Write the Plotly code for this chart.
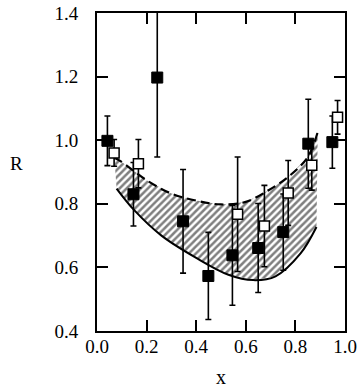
import plotly.graph_objects as go

# Filled squares
fx = [0.042, 0.147, 0.243, 0.347, 0.449, 0.546, 0.650, 0.751, 0.852, 0.949]
fy = [0.998, 0.830, 1.197, 0.745, 0.573, 0.638, 0.661, 0.711, 0.989, 0.994]
fe = [0.078, 0.100, 0.250, 0.163, 0.137, 0.157, 0.140, 0.120, 0.140, 0.082]

# Open squares
ox = [0.069, 0.167, 0.567, 0.675, 0.771, 0.866, 0.970]
oy = [0.960, 0.926, 0.767, 0.730, 0.834, 0.921, 1.072]
oe = [0.042, 0.076, 0.180, 0.128, 0.102, 0.078, 0.053]

# Band curves
lo_x = [0.079, 0.150, 0.260, 0.400, 0.530, 0.630, 0.720, 0.820, 0.885]
lo_y = [0.848, 0.780, 0.700, 0.630, 0.577, 0.560, 0.572, 0.643, 0.727]
up_x = [0.070, 0.093, 0.200, 0.300, 0.400, 0.500, 0.600, 0.690, 0.770, 0.850, 0.890]
up_y = [0.945, 0.935, 0.874, 0.832, 0.810, 0.798, 0.806, 0.842, 0.884, 0.947, 1.026]

xticks = [0.0, 0.2, 0.4, 0.6, 0.8, 1.0]
yticks = [0.4, 0.6, 0.8, 1.0, 1.2, 1.4]

FONT = "Liberation Serif"

fig = go.Figure()

# hatched band
fig.add_trace(go.Scatter(
    x=lo_x + up_x[::-1], y=lo_y + up_y[::-1],
    mode="lines", fill="toself", line=dict(width=0, color="rgba(0,0,0,0)"),
    fillcolor="white",
    fillpattern=dict(shape="/", size=5, solidity=0.5, fgcolor="black", bgcolor="white"),
    hoverinfo="skip", showlegend=False))
fig.add_trace(go.Scatter(x=lo_x, y=lo_y, mode="lines", line=dict(color="black", width=2, shape="spline"),
                         showlegend=False))
fig.add_trace(go.Scatter(x=up_x, y=up_y, mode="lines",
                         line=dict(color="black", width=2.2, dash="9px,5px", shape="spline"),
                         showlegend=False))

fig.add_trace(go.Scatter(
    x=fx, y=fy, mode="markers",
    marker=dict(symbol="square", size=11, color="black", line=dict(color="black", width=1)),
    error_y=dict(type="data", array=fe, color="black", thickness=1.6, width=3),
    showlegend=False))
fig.add_trace(go.Scatter(
    x=ox, y=oy, mode="markers",
    marker=dict(symbol="square", size=10, color="white", line=dict(color="black", width=1.5)),
    error_y=dict(type="data", array=oe, color="black", thickness=1.6, width=3),
    showlegend=False))

axis_common = dict(showline=True, linecolor="black", linewidth=2, mirror="ticks",
                   ticks="inside", ticklen=11, tickwidth=2, tickcolor="black",
                   showgrid=False, zeroline=False, automargin=False,
                   tickfont=dict(family=FONT, size=19, color="black"))

fig.update_xaxes(range=[0, 1], tickvals=xticks, ticktext=[f"{v:.1f}" for v in xticks],
                 ticklabelstandoff=-3, **axis_common)
fig.update_yaxes(range=[0.4, 1.4], tickvals=yticks, ticktext=[f"{v:.1f}" for v in yticks],
                 ticklabelstandoff=13, **axis_common)

fig.add_annotation(text="R", xref="paper", yref="paper", x=-0.323, y=0.527,
                   xanchor="center", yanchor="middle", showarrow=False,
                   font=dict(family=FONT, size=19, color="black"))
fig.add_annotation(text="x", xref="paper", yref="paper", x=0.5, y=-0.145,
                   xanchor="center", yanchor="middle", showarrow=False,
                   font=dict(family=FONT, size=20, color="black"))

fig.update_layout(width=363, height=387, margin=dict(l=97, r=18, t=13, b=56),
                  plot_bgcolor="white", paper_bgcolor="white", showlegend=False)

# remove the default page margin so the figure fills the window exactly
fig.write_html("out.html", config={"displayModeBar": False},
               post_script="document.body.style.margin='0';document.body.style.overflow='hidden';")
